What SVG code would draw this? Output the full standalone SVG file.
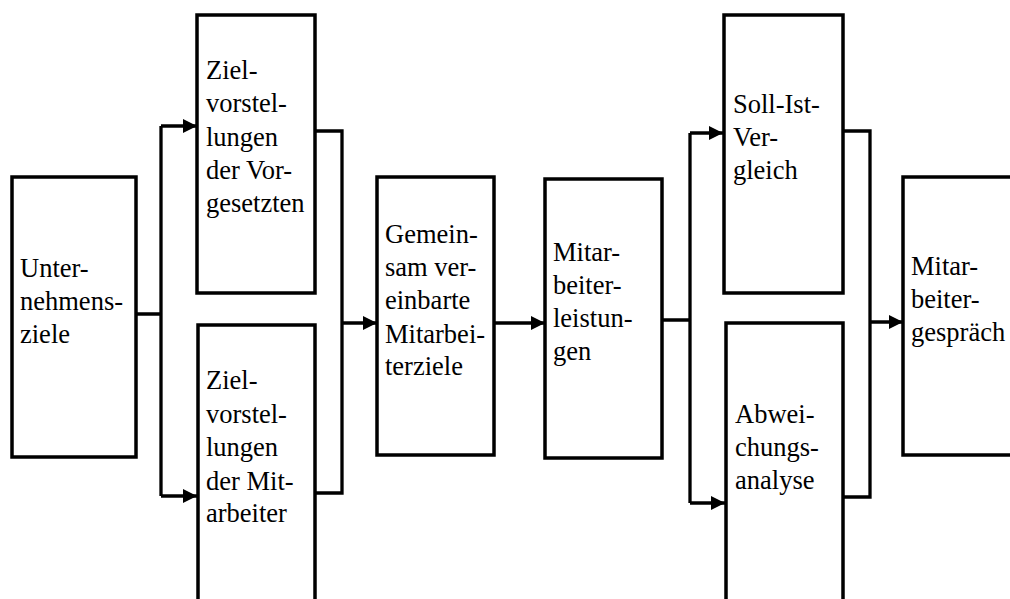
<svg xmlns="http://www.w3.org/2000/svg" width="1010" height="599" viewBox="0 0 1010 599">
<style>
.box{fill:#fff;stroke:#000;stroke-width:3.5}
.t{font-family:"Liberation Serif","Times New Roman",serif;font-size:26.5px;fill:#000}
.c{fill:none;stroke:#000;stroke-width:3.3}
</style>
<defs>
<marker id="ah" markerUnits="userSpaceOnUse" markerWidth="16" markerHeight="16" refX="14" refY="8" orient="auto">
<path d="M0,1 L14,8 L0,15 z" fill="#000"/>
</marker>
</defs>
<rect width="1010" height="599" fill="#fff"/>
<g id="connectors">
<path class="c" d="M136,314 H161 M161,126 V496"/>
<path class="c" d="M161,126 H197" marker-end="url(#ah)"/>
<path class="c" d="M161,496 H197" marker-end="url(#ah)"/>
<path class="c" d="M315,131 H342 V493 H315"/>
<path class="c" d="M342,323 H377" marker-end="url(#ah)"/>
<path class="c" d="M494,323 H545" marker-end="url(#ah)"/>
<path class="c" d="M662,320 H690 M690,133 V503"/>
<path class="c" d="M690,133 H723" marker-end="url(#ah)"/>
<path class="c" d="M690,503 H725" marker-end="url(#ah)"/>
<path class="c" d="M843,131 H870 V497 H843"/>
<path class="c" d="M870,322 H903" marker-end="url(#ah)"/>
</g>
<g id="n1">
<rect class="box" x="12" y="177" width="124" height="280"/>
<text class="t"><tspan x="20" y="277">Unter-</tspan><tspan x="20" y="310">nehmens-</tspan><tspan x="20" y="343">ziele</tspan></text>
</g>
<g id="n2">
<rect class="box" x="197" y="15" width="118" height="278"/>
<text class="t"><tspan x="206" y="79">Ziel-</tspan><tspan x="206" y="112">vorstel-</tspan><tspan x="206" y="146">lungen</tspan><tspan x="206" y="179">der Vor-</tspan><tspan x="206" y="212">gesetzten</tspan></text>
</g>
<g id="n3">
<rect class="box" x="198" y="325" width="117" height="290"/>
<text class="t"><tspan x="206" y="389">Ziel-</tspan><tspan x="206" y="423">vorstel-</tspan><tspan x="206" y="456">lungen</tspan><tspan x="206" y="490">der Mit-</tspan><tspan x="206" y="522">arbeiter</tspan></text>
</g>
<g id="n4">
<rect class="box" x="377" y="177" width="117" height="278"/>
<text class="t"><tspan x="385" y="243">Gemein-</tspan><tspan x="385" y="276">sam ver-</tspan><tspan x="385" y="309">einbarte</tspan><tspan x="385" y="343">Mitarbei-</tspan><tspan x="385" y="375">terziele</tspan></text>
</g>
<g id="n5">
<rect class="box" x="545" y="179" width="117" height="279"/>
<text class="t"><tspan x="553" y="261">Mitar-</tspan><tspan x="553" y="294">beiter-</tspan><tspan x="553" y="327">leistun-</tspan><tspan x="553" y="360">gen</tspan></text>
</g>
<g id="n6">
<rect class="box" x="724" y="15" width="119" height="278"/>
<text class="t"><tspan x="733" y="113">Soll-Ist-</tspan><tspan x="733" y="146">Ver-</tspan><tspan x="733" y="179">gleich</tspan></text>
</g>
<g id="n7">
<rect class="box" x="726" y="323" width="117" height="292"/>
<text class="t"><tspan x="735" y="423">Abwei-</tspan><tspan x="735" y="456">chungs-</tspan><tspan x="735" y="489">analyse</tspan></text>
</g>
<g id="n8">
<rect class="box" x="903" y="177" width="120" height="278"/>
<text class="t"><tspan x="911" y="275">Mitar-</tspan><tspan x="911" y="308">beiter-</tspan><tspan x="911" y="341">gespräch</tspan></text>
</g>
</svg>
